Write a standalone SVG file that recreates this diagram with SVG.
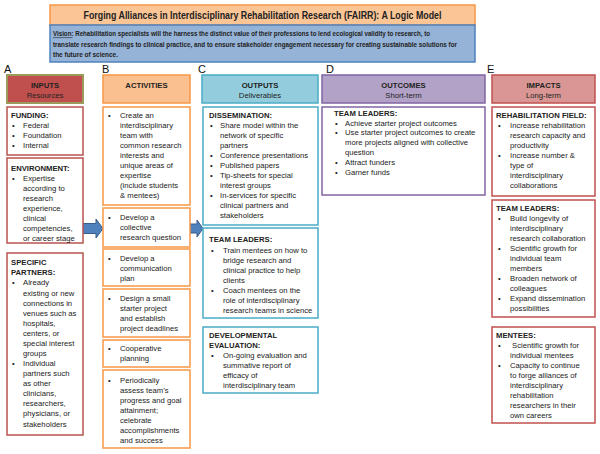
<svg xmlns="http://www.w3.org/2000/svg" width="600" height="454" viewBox="0 0 600 454">
<defs>
<style>
text{font-family:"Liberation Sans",Arial,sans-serif;font-size:7.7px;fill:#222}
.b{font-weight:bold}
.c{text-anchor:middle}
.bx{fill:#fff;stroke-width:1.5}
.a{stroke:#B85450}
.o{stroke:#F79646}
.t{stroke:#4BACC6}
.p{stroke:#8064A2}
.e{stroke:#C0504D}
.let{font-size:11px;fill:#111}
.arr{fill:#4F81BD;stroke:#385D8A;stroke-width:1}
</style>
</defs>
<rect width="600" height="454" fill="#fff"/>
<g id="title">
<rect x="50" y="5" width="425" height="20" fill="#FBC596" stroke="#F79646" stroke-width="1.5"/>
<text x="262.5" y="19" class="b c" style="font-size:10.5px" textLength="358" lengthAdjust="spacingAndGlyphs">Forging Alliances in Interdisciplinary Rehabilitation Research (FAIRR): A Logic Model</text>
</g>
<g id="vision">
<rect x="50" y="25" width="425" height="37" fill="#95B3D7" stroke="#4F81BD" stroke-width="1.5"/>
<text x="53" y="36" class="b" style="font-size:7px" textLength="377" lengthAdjust="spacingAndGlyphs">Vision: Rehabilitation specialists will the harness the distinct value of their professions to lend ecological validity to research, to</text>
<line x1="53" y1="37.6" x2="72.5" y2="37.6" stroke="#222" stroke-width="0.6"/>
<text x="53" y="46.5" class="b" style="font-size:7px" textLength="404" lengthAdjust="spacingAndGlyphs">translate research findings to clinical practice, and to ensure stakeholder engagement necessary for creating sustainable solutions for</text>
<text x="53" y="57" class="b" style="font-size:7px" textLength="65" lengthAdjust="spacingAndGlyphs">the future of science.</text>
</g>
<g id="letters">
<text x="4" y="73" class="let">A</text>
<text x="102" y="73" class="let">B</text>
<text x="198" y="73" class="let">C</text>
<text x="326" y="73" class="let">D</text>
<text x="487" y="73" class="let">E</text>
</g>
<g id="connectors">
<path class="arr" d="M83,223.5 H96 V219 L103,228.5 L96,238 V233.5 H83 Z"/>
<path class="arr" d="M190,224 H197 V220 L203,228.5 L197,237 V233 H190 Z"/>
</g>
<g id="inputs-header">
<rect x="7" y="75" width="76" height="28" fill="#C0504D" stroke="#9C9A5A" stroke-width="2"/>
<text x="45" y="88" class="b c">INPUTS</text>
<text x="45" y="98" class="c">Resources</text>
</g>
<g id="funding">
<rect x="7" y="107" width="76" height="48" class="bx a"/>
<text x="11" y="118" class="b">FUNDING:</text>
<text x="12" y="128">•</text><text x="23" y="128">Federal</text>
<text x="12" y="138">•</text><text x="23" y="138">Foundation</text>
<text x="12" y="148">•</text><text x="23" y="148">Internal</text>
</g>
<g id="environment">
<rect x="7" y="158" width="76" height="85" class="bx a"/>
<text x="11" y="171" class="b">ENVIRONMENT:</text>
<text x="12" y="181">•</text><text x="23" y="181">Expertise</text>
<text x="23" y="191">according to</text>
<text x="23" y="201">research</text>
<text x="23" y="211">experience,</text>
<text x="23" y="221">clinical</text>
<text x="23" y="231">competencies,</text>
<text x="23" y="241">or career stage</text>
</g>
<g id="partners">
<rect x="7" y="253" width="76" height="182" class="bx a"/>
<text x="11" y="265" class="b">SPECIFIC</text>
<text x="11" y="275" class="b">PARTNERS:</text>
<text x="12" y="285">•</text><text x="23" y="285">Already</text>
<text x="23" y="295.5">existing or new</text>
<text x="23" y="306">connections in</text>
<text x="23" y="316">venues such as</text>
<text x="23" y="326">hospitals,</text>
<text x="23" y="336">centers, or</text>
<text x="23" y="346">special interest</text>
<text x="23" y="356">groups</text>
<text x="12" y="366">•</text><text x="23" y="366">Individual</text>
<text x="23" y="376">partners such</text>
<text x="23" y="386">as other</text>
<text x="23" y="396">clinicians,</text>
<text x="23" y="406">researchers,</text>
<text x="23" y="416">physicians, or</text>
<text x="23" y="426.5">stakeholders</text>
</g>
<g id="activities-header">
<rect x="103" y="75" width="87" height="28" fill="#FAC090" stroke="#F79646" stroke-width="1.5"/>
<text x="146.5" y="88" class="b c">ACTIVITIES</text>
</g>
<g id="act1">
<rect x="103" y="107" width="87" height="98" class="bx o"/>
<text x="108" y="118">•</text><text x="120" y="118">Create an</text>
<text x="120" y="128">interdisciplinary</text>
<text x="120" y="138">team with</text>
<text x="120" y="148">common research</text>
<text x="120" y="158">interests and</text>
<text x="120" y="168">unique areas of</text>
<text x="120" y="178">expertise</text>
<text x="120" y="188">(include students</text>
<text x="120" y="198">&amp; mentees)</text>
</g>
<g id="act2">
<rect x="103" y="208" width="87" height="39" class="bx o"/>
<text x="108" y="220">•</text><text x="120" y="220">Develop a</text>
<text x="120" y="230">collective</text>
<text x="120" y="240">research question</text>
</g>
<g id="act3">
<rect x="103" y="249" width="87" height="37" class="bx o"/>
<text x="108" y="261">•</text><text x="120" y="261">Develop a</text>
<text x="120" y="271">communication</text>
<text x="120" y="281">plan</text>
</g>
<g id="act4">
<rect x="103" y="289" width="87" height="48" class="bx o"/>
<text x="108" y="301">•</text><text x="120" y="301">Design a small</text>
<text x="120" y="311">starter project</text>
<text x="120" y="321">and establish</text>
<text x="120" y="331">project deadlines</text>
</g>
<g id="act5">
<rect x="103" y="340" width="87" height="27" class="bx o"/>
<text x="108" y="351">•</text><text x="120" y="351">Cooperative</text>
<text x="120" y="361">planning</text>
</g>
<g id="act6">
<rect x="103" y="370" width="87" height="78" class="bx o"/>
<text x="108" y="383">•</text><text x="120" y="383">Periodically</text>
<text x="120" y="393">assess team’s</text>
<text x="120" y="403">progress and goal</text>
<text x="120" y="413">attainment;</text>
<text x="120" y="423">celebrate</text>
<text x="120" y="433">accomplishments</text>
<text x="120" y="443">and success</text>
</g>
<g id="outputs-header">
<rect x="202" y="75" width="116" height="28" fill="#93CDDD" stroke="#4BACC6" stroke-width="1.5"/>
<text x="260" y="88" class="b c">OUTPUTS</text>
<text x="260" y="97.5" class="c">Deliverables</text>
</g>
<g id="dissemination">
<rect x="203" y="107" width="115" height="118" class="bx t"/>
<text x="209" y="118" class="b">DISSEMINATION:</text>
<text x="210" y="128">•</text><text x="220" y="128">Share model within the</text>
<text x="220" y="138">network of specific</text>
<text x="220" y="148">partners</text>
<text x="210" y="158">•</text><text x="220" y="158">Conference presentations</text>
<text x="210" y="168">•</text><text x="220" y="168">Published papers</text>
<text x="210" y="178">•</text><text x="220" y="178">Tip-sheets for special</text>
<text x="220" y="188">interest groups</text>
<text x="210" y="198">•</text><text x="220" y="198">In-services for specific</text>
<text x="220" y="208">clinical partners and</text>
<text x="220" y="218">stakeholders</text>
</g>
<g id="out-team">
<rect x="203" y="228" width="115" height="90" class="bx t"/>
<text x="209" y="242" class="b">TEAM LEADERS:</text>
<text x="211" y="253">•</text><text x="223" y="253">Train mentees on how to</text>
<text x="223" y="263">bridge research and</text>
<text x="223" y="273">clinical practice to help</text>
<text x="223" y="283">clients</text>
<text x="211" y="293">•</text><text x="223" y="293">Coach mentees on the</text>
<text x="223" y="303">role of interdisciplinary</text>
<text x="223" y="313">research teams in science</text>
</g>
<g id="evaluation">
<rect x="203" y="327" width="115" height="66" class="bx t"/>
<text x="209" y="338" class="b">DEVELOPMENTAL</text>
<text x="209" y="348" class="b">EVALUATION:</text>
<text x="211" y="358">•</text><text x="223" y="358">On-going evaluation and</text>
<text x="223" y="368">summative report of</text>
<text x="223" y="378">efficacy of</text>
<text x="223" y="388">interdisciplinary team</text>
</g>
<g id="outcomes-header">
<rect x="322" y="75" width="163" height="28" fill="#B3A2C7" stroke="#8064A2" stroke-width="1.5"/>
<text x="403.5" y="88" class="b c">OUTCOMES</text>
<text x="403.5" y="98" class="c">Short-term</text>
</g>
<g id="outcomes">
<rect x="322" y="107" width="163" height="88" class="bx p"/>
<text x="334" y="116" class="b">TEAM LEADERS:</text>
<text x="335" y="125.5">•</text><text x="345" y="125.5">Achieve starter project outcomes</text>
<text x="335" y="135">•</text><text x="345" y="135">Use starter project outcomes to create</text>
<text x="345" y="145">more projects aligned with collective</text>
<text x="345" y="155">question</text>
<text x="335" y="165">•</text><text x="345" y="165">Attract funders</text>
<text x="335" y="175">•</text><text x="345" y="175">Garner funds</text>
</g>
<g id="impacts-header">
<rect x="492" y="75" width="103" height="28" fill="#D99694" stroke="#C0504D" stroke-width="1.5"/>
<text x="543.5" y="88" class="b c">IMPACTS</text>
<text x="543.5" y="97.5" class="c">Long-term</text>
</g>
<g id="rehab-field">
<rect x="492" y="107" width="103" height="89" class="bx e"/>
<text x="496" y="118" class="b">REHABILITATION FIELD:</text>
<text x="498" y="128">•</text><text x="510" y="128">Increase rehabilitation</text>
<text x="510" y="138">research capacity and</text>
<text x="510" y="148">productivity</text>
<text x="498" y="158">•</text><text x="510" y="158">Increase number &amp;</text>
<text x="510" y="168">type of</text>
<text x="510" y="178">interdisciplinary</text>
<text x="510" y="188">collaborations</text>
</g>
<g id="imp-team">
<rect x="492" y="200" width="103" height="117" class="bx e"/>
<text x="496" y="211" class="b">TEAM LEADERS:</text>
<text x="498" y="221">•</text><text x="510" y="221">Build longevity of</text>
<text x="510" y="231">interdisciplinary</text>
<text x="510" y="241">research collaboration</text>
<text x="498" y="251">•</text><text x="510" y="251">Scientific growth for</text>
<text x="510" y="261">individual team</text>
<text x="510" y="271">members</text>
<text x="498" y="281">•</text><text x="510" y="281">Broaden network of</text>
<text x="510" y="291">colleagues</text>
<text x="498" y="301">•</text><text x="510" y="301">Expand dissemination</text>
<text x="510" y="311">possibilities</text>
</g>
<g id="mentees">
<rect x="492" y="327" width="103" height="96" class="bx e"/>
<text x="496" y="338" class="b">MENTEES:</text>
<text x="498" y="348">•</text><text x="512" y="348">Scientific growth for</text>
<text x="510" y="358">individual mentees</text>
<text x="498" y="368">•</text><text x="510" y="368">Capacity to continue</text>
<text x="510" y="378">to forge alliances of</text>
<text x="510" y="388">interdisciplinary</text>
<text x="510" y="398">rehabilitation</text>
<text x="510" y="408">researchers in their</text>
<text x="510" y="418">own careers</text>
</g>
</svg>
